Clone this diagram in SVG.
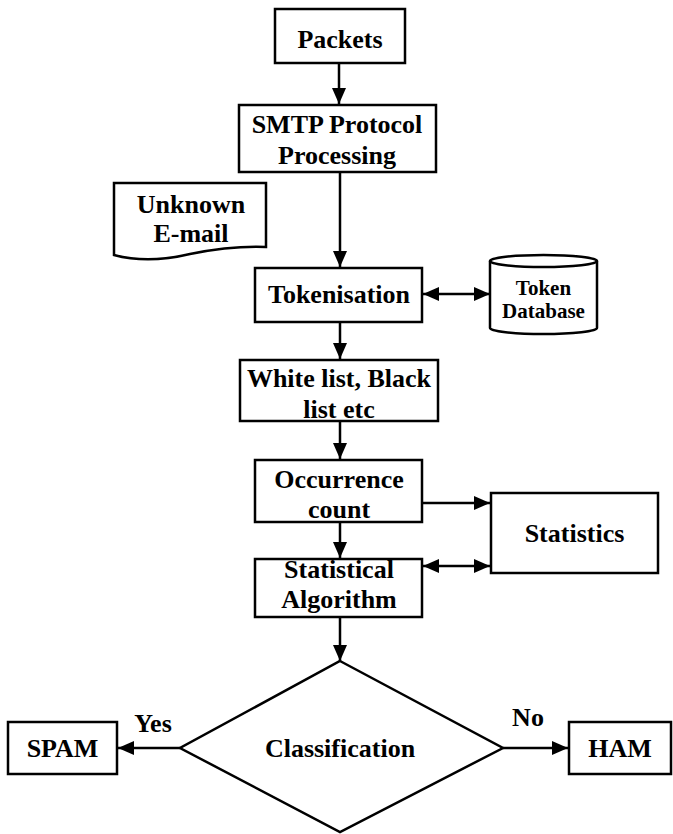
<svg xmlns="http://www.w3.org/2000/svg" width="673" height="834" viewBox="0 0 673 834" font-family="'Liberation Serif', 'DejaVu Serif', serif">
<defs>
<style>
.box{fill:#fff;stroke:#000;stroke-width:2.5}
.ln{fill:none;stroke:#000;stroke-width:2.5}
text{font-family:'Liberation Serif','DejaVu Serif',serif;font-weight:bold;font-size:26px;fill:#000;text-anchor:middle}
.sm{font-size:21px}
</style>
<marker id="ah" viewBox="0 0 16 14" refX="16" refY="7" markerWidth="16" markerHeight="14" markerUnits="userSpaceOnUse" orient="auto-start-reverse">
<path d="M0,0 L16,7 L0,14 Z" fill="#000"/>
</marker>
</defs>
<rect width="673" height="834" fill="#fff"/>
<g id="connectors">
<line class="ln" x1="339" y1="63" x2="339" y2="104" marker-end="url(#ah)"/>
<line class="ln" x1="340" y1="172" x2="340" y2="267" marker-end="url(#ah)"/>
<line class="ln" x1="423" y1="294" x2="490" y2="294" marker-start="url(#ah)" marker-end="url(#ah)"/>
<line class="ln" x1="340" y1="322" x2="340" y2="359" marker-end="url(#ah)"/>
<line class="ln" x1="340" y1="421" x2="340" y2="459" marker-end="url(#ah)"/>
<line class="ln" x1="422" y1="503" x2="490" y2="503" marker-end="url(#ah)"/>
<line class="ln" x1="340" y1="522" x2="340" y2="558" marker-end="url(#ah)"/>
<line class="ln" x1="423" y1="566" x2="490" y2="566" marker-start="url(#ah)" marker-end="url(#ah)"/>
<line class="ln" x1="340" y1="617" x2="340" y2="661" marker-end="url(#ah)"/>
<line class="ln" x1="180" y1="748" x2="118" y2="748" marker-end="url(#ah)"/>
<line class="ln" x1="503" y1="748" x2="568" y2="748" marker-end="url(#ah)"/>
<text x="153" y="732">Yes</text>
<text x="528" y="726">No</text>
</g>
<g id="packets">
<rect class="box" x="275" y="9" width="130" height="54"/>
<text x="340" y="48">Packets</text>
</g>
<g id="smtp">
<rect class="box" x="239" y="105" width="197" height="67"/>
<text x="337" y="133">SMTP Protocol</text>
<text x="337" y="164">Processing</text>
</g>
<g id="unknown-email">
<path class="box" d="M114,183 L266,183 L266,247 C240,246 215,249 190,254 C165,260 140,262 114,255 Z"/>
<text x="191" y="213">Unknown</text>
<text x="191" y="242">E-mail</text>
</g>
<g id="tokenisation">
<rect class="box" x="255" y="268" width="167" height="54"/>
<text x="339" y="303">Tokenisation</text>
</g>
<g id="token-database">
<path class="box" d="M490,261 A53.5,6 0 0 1 597,261 L597,328 A53.5,6 0 0 1 490,328 Z"/>
<path class="ln" d="M490,261 A53.5,6 0 0 0 597,261"/>
<text class="sm" x="543.5" y="295">Token</text>
<text class="sm" x="543.5" y="318">Database</text>
</g>
<g id="whitelist">
<rect class="box" x="240" y="360" width="198" height="61"/>
<text x="339" y="387">White list, Black</text>
<text x="339" y="418">list etc</text>
</g>
<g id="occurrence">
<rect class="box" x="255" y="460" width="167" height="62"/>
<text x="339" y="488">Occurrence</text>
<text x="339" y="518">count</text>
</g>
<g id="statistics">
<rect class="box" x="491" y="493" width="167" height="80"/>
<text x="574.5" y="542">Statistics</text>
</g>
<g id="statistical-algorithm">
<rect class="box" x="255" y="559" width="167" height="58"/>
<text x="339" y="578">Statistical</text>
<text x="339" y="608">Algorithm</text>
</g>
<g id="classification">
<polygon class="box" points="340,661 503,748 340,832 180,748"/>
<text x="340" y="757">Classification</text>
</g>
<g id="spam">
<rect class="box" x="8" y="722" width="109" height="52"/>
<text x="62.5" y="757">SPAM</text>
</g>
<g id="ham">
<rect class="box" x="569" y="722" width="102" height="52"/>
<text x="620" y="757">HAM</text>
</g>
</svg>
